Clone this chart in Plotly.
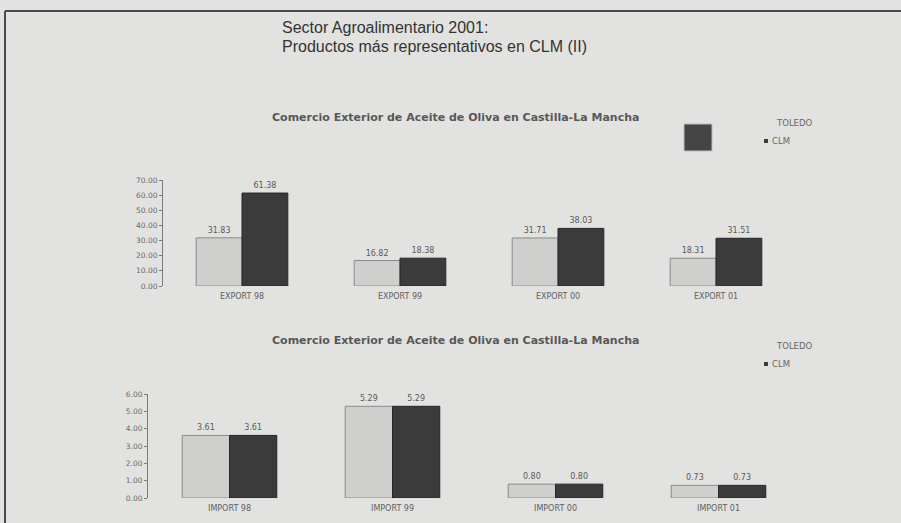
import plotly.graph_objects as go

# ---- data ----
export_cats = ["EXPORT 98", "EXPORT 99", "EXPORT 00", "EXPORT 01"]
export_toledo = [31.83, 16.82, 31.71, 18.31]
export_clm = [61.38, 18.38, 38.03, 31.51]

import_cats = ["IMPORT 98", "IMPORT 99", "IMPORT 00", "IMPORT 01"]
import_toledo = [3.61, 5.29, 0.80, 0.73]
import_clm = [3.61, 5.29, 0.80, 0.73]

series_names = ["TOLEDO", "CLM"]
chart_title = "Comercio Exterior de Aceite de Oliva en Castilla-La Mancha"
main_title_1 = "Sector Agroalimentario 2001:"
main_title_2 = "Productos más representativos en CLM (II)"

export_ticks = [0, 10, 20, 30, 40, 50, 60, 70]
import_ticks = [0, 1, 2, 3, 4, 5, 6]

# ---- layout helpers ----
W, H = 901, 523
def fx(px):
    return px / W
def fy(py):
    return 1 - py / H

BG = "#e2e2e0"
LIGHT = "#cfcfcd"
DARK = "#3b3b3b"
TXT = "#5a5a5a"
SMALL = "DejaVu Sans"

fig = go.Figure()

def add_bars(cats, light, dark, xa, ya):
    fig.add_trace(go.Bar(
        x=cats, y=light, name=series_names[0], xaxis=xa, yaxis=ya,
        marker=dict(color=LIGHT, line=dict(color="#8a8a8a", width=1)),
        text=[f"{v:.2f}" for v in light], textposition="outside",
        textfont=dict(family=SMALL, size=8, color=TXT),
        cliponaxis=False, showlegend=False))
    fig.add_trace(go.Bar(
        x=cats, y=dark, name=series_names[1], xaxis=xa, yaxis=ya,
        marker=dict(color=DARK, line=dict(color="#262626", width=1)),
        text=[f"{v:.2f}" for v in dark], textposition="outside",
        textfont=dict(family=SMALL, size=8, color=TXT),
        cliponaxis=False, showlegend=False))

add_bars(export_cats, export_toledo, export_clm, "x", "y")
add_bars(import_cats, import_toledo, import_clm, "x2", "y2")

xcommon = dict(showline=False, showgrid=False, zeroline=False, automargin=False,
               ticks="outside", ticklen=2, tickcolor="rgba(0,0,0,0)",
               tickfont=dict(family=SMALL, size=8, color="#606060"))
ycommon = dict(showline=True, linecolor="#7a7a7a", linewidth=1, showgrid=False,
               zeroline=False, automargin=False, ticks="outside", ticklen=3,
               tickcolor="#7a7a7a",
               tickfont=dict(family=SMALL, size=7.5, color="#6a6a6a"))

fig.update_layout(
    width=W, height=H, autosize=False,
    margin=dict(l=0, r=0, t=0, b=0, pad=0, autoexpand=False),
    paper_bgcolor=BG, plot_bgcolor=BG,
    barmode="group", bargap=0.42, bargroupgap=0.0,
    showlegend=False,
    xaxis=dict(domain=[fx(163), fx(795)], anchor="y", **xcommon),
    yaxis=dict(domain=[fy(286), fy(180)], anchor="x", range=[0, 70],
               tickvals=export_ticks, ticktext=[f"{v:.2f}" for v in export_ticks],
               **ycommon),
    xaxis2=dict(domain=[fx(148), fx(800)], anchor="y2", **xcommon),
    yaxis2=dict(domain=[fy(498), fy(394)], anchor="x2", range=[0, 6],
                tickvals=import_ticks, ticktext=[f"{v:.2f}" for v in import_ticks],
                **ycommon),
)

ann = []
# main title
ann.append(dict(x=fx(280), y=fy(28), xref="paper", yref="paper", xanchor="left",
                yanchor="middle", showarrow=False, text=main_title_1,
                font=dict(family="Liberation Sans", size=16, color="#333333")))
ann.append(dict(x=fx(280), y=fy(47), xref="paper", yref="paper", xanchor="left",
                yanchor="middle", showarrow=False, text=main_title_2,
                font=dict(family="Liberation Sans", size=16, color="#333333")))
# chart titles
for ty in (117, 340):
    ann.append(dict(x=fx(456), y=fy(ty), xref="paper", yref="paper", xanchor="center",
                    yanchor="middle", showarrow=False, text=chart_title,
                    font=dict(family=SMALL, size=11, color="#585858", weight="bold")))
# legends
for ly_t, ly_c in ((123, 141), (346, 364)):
    ann.append(dict(x=fx(774), y=fy(ly_t), xref="paper", yref="paper", xanchor="left",
                    yanchor="middle", showarrow=False, text=series_names[0],
                    font=dict(family=SMALL, size=8.5, color="#666666")))
    ann.append(dict(x=fx(770), y=fy(ly_c), xref="paper", yref="paper", xanchor="left",
                    yanchor="middle", showarrow=False, text=series_names[1],
                    font=dict(family=SMALL, size=8.5, color="#666666")))
fig.update_layout(annotations=ann)

shapes = []
# legend swatches
for ly_c in (141, 364):
    shapes.append(dict(type="rect", xref="paper", yref="paper",
                       x0=fx(764), x1=fx(768), y0=fy(ly_c + 2), y1=fy(ly_c - 2),
                       fillcolor=DARK, line=dict(width=0)))
# stray large swatch in top legend
shapes.append(dict(type="rect", xref="paper", yref="paper",
                   x0=fx(684), x1=fx(712), y0=fy(151), y1=fy(124),
                   fillcolor="#454545", line=dict(color="#bdbdbd", width=1)))
# frame
shapes.append(dict(type="line", xref="paper", yref="paper",
                   x0=fx(5), x1=1, y0=fy(11), y1=fy(11),
                   line=dict(color="#4a4a4a", width=2)))
shapes.append(dict(type="line", xref="paper", yref="paper",
                   x0=fx(5), x1=fx(5), y0=fy(11), y1=0,
                   line=dict(color="#4a4a4a", width=2)))
fig.update_layout(shapes=shapes)

fig.write_html("out.html",
               config={"displayModeBar": False, "responsive": False},
               post_script="document.body.style.margin='0';document.body.style.overflow='hidden';")
